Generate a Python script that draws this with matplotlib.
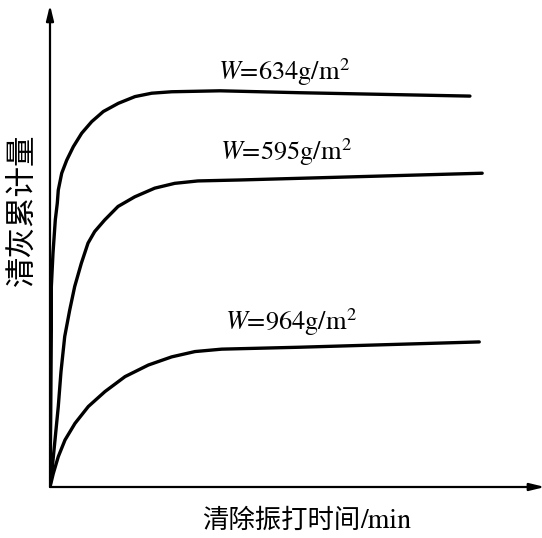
import matplotlib
matplotlib.use("Agg")
import matplotlib.pyplot as plt

plt.rcParams['font.family'] = ['Noto Sans CJK SC', 'DejaVu Sans']
plt.rcParams['mathtext.fontset'] = 'stix'

# Data (x: time, arbitrary units; y: cumulative amount, arbitrary units)
x_634 = [0, 0.14, 0.27, 0.27, 0.61, 1.08, 1.49, 1.69, 2.39, 3.41, 4.76, 6.47, 8.51,
         10.88, 13.94, 17.35, 20.76, 24.84, 34.7, 51.0, 85.7]
y_634 = [0, 13.9, 32.6, 41.5, 48.5, 55.4, 58.9, 61.6, 65.1, 67.8, 70.6, 73.4, 75.8,
         77.9, 79.6, 81.0, 81.7, 82.0, 82.2, 81.8, 81.1]

x_595 = [0, 0.35, 1.02, 1.69, 2.24, 3.0, 4.02, 5.04, 6.39, 7.76, 9.12, 11.16, 13.88,
         17.29, 21.37, 25.45, 30.2, 38.8, 88.2]
y_595 = [0, 2.9, 9.75, 16.7, 23.9, 31.2, 36.7, 41.6, 46.4, 50.6, 53.0, 55.4, 58.2,
         60.2, 62.0, 63.0, 63.5, 63.7, 65.1]

x_964 = [0, 0.67, 1.69, 3.06, 5.10, 7.82, 11.22, 15.31, 20.06, 24.84, 29.59, 35.04, 51.0, 87.6]
y_964 = [0, 2.8, 6.3, 9.75, 13.2, 16.7, 19.8, 22.9, 25.3, 27.0, 28.1, 28.6, 29.0, 30.1]

labels = [r'$W$=634g/m$^2$', r'$W$=595g/m$^2$', r'$W$=964g/m$^2$']
x_label_cjk = '清除振打时间'
x_label_unit = '/min'
y_label = '清灰累计量'

W, H = 542, 538
fig = plt.figure(figsize=(W / 100, H / 100), dpi=100)
ax = fig.add_axes([50 / W, (H - 487) / H, (540 - 50) / W, (487 - 5) / H])
ax.set_xlim(0, 100)
ax.set_ylim(0, 100)
for s in ax.spines.values():
    s.set_visible(False)
ax.set_xticks([])
ax.set_yticks([])

lw = 2.4
for xs, ys in [(x_634, y_634), (x_595, y_595), (x_964, y_964)]:
    ax.plot(xs, ys, color='black', lw=lw, solid_joinstyle='round', solid_capstyle='round')

# axes with arrows
ap = dict(arrowstyle='-|>,head_length=0.9,head_width=0.22', lw=1.6, color='black',
          shrinkA=0, shrinkB=0)
ax.annotate('', xy=(0, 1.0), xytext=(0, 0), xycoords='axes fraction', arrowprops=ap,
            annotation_clip=False)
ax.annotate('', xy=(1.01, 0), xytext=(0, 0), xycoords='axes fraction', arrowprops=ap,
            annotation_clip=False)

tfont = dict(family='STIXGeneral', fontsize=19, va='baseline', ha='left')
ax.text(34.3, 84.4, labels[0], **tfont)
ax.text(34.7, 67.8, labels[1], **tfont)
ax.text(35.7, 32.6, labels[2], **tfont)

t1 = fig.text(202 / W, 1 - 520 / H, x_label_cjk, ha='left', va='center', fontsize=19)
fig.canvas.draw()
bb = t1.get_window_extent(renderer=fig.canvas.get_renderer())
fig.text(bb.x1 / W, 1 - 528 / H, x_label_unit, ha='left', va='baseline', fontsize=20,
         family='STIXGeneral')
fig.text(22 / W, 1 - 210 / H, y_label, ha='center', va='center', fontsize=22, rotation=90)

fig.savefig('out.png', dpi=100)
